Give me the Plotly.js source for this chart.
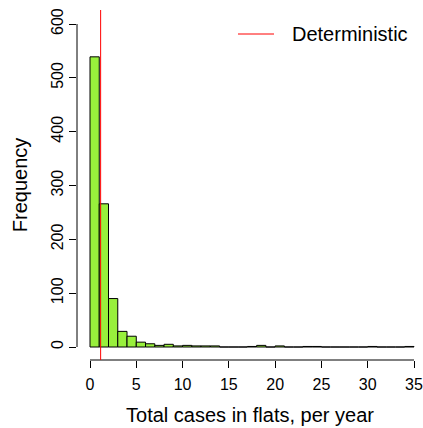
<!DOCTYPE html>
<html>
<head>
<meta charset="utf-8">
<script src="https://cdn.plot.ly/plotly-3.0.1.min.js"></script>
<style>html,body{margin:0;padding:0;background:#fff;}#chart{width:423px;height:428px;}</style>
</head>
<body>
<div id="chart"></div>
<script>
// Histogram bins (left edges, width 1) and counts
var binStarts = [0,1,2,3,4,5,6,7,8,9,10,11,12,13,14,15,16,17,18,19,20,21,22,23,24,25,26,27,28,29,30,31,32,33,34];
var counts    = [539,266,90,29,20,9,6,3,5,2,3,2,2,2,0,0,0,1,3,0,2,0,0,1,1,0,0,0,0,0,1,0,0,0,1];
var binWidth = 1;
var deterministic = 1.15;
var xTicks = [0,5,10,15,20,25,30,35];
var yTicks = [0,100,200,300,400,500,600];
var legendLabel = "Deterministic";
var xTitle = "Total cases in flats, per year";
var yTitle = "Frequency";

var centers = binStarts.map(function(b){ return b + binWidth/2; });

var font = "Liberation Sans, Arial, Helvetica, sans-serif";

var traces = [{
  type: 'bar',
  x: centers,
  y: counts,
  width: binWidth,
  marker: {color: '#98f03c', line: {color: '#000000', width: 1}},
  hoverinfo: 'x+y',
  showlegend: false
}];

var layout = {
  width: 423, height: 428,
  margin: {l: 77, r: 0, t: 10, b: 68},
  paper_bgcolor: '#ffffff',
  plot_bgcolor: '#ffffff',
  showlegend: false,
  bargap: 0,
  font: {family: font, color: '#000000'},
  xaxis: {
    range: [-1.404, 35.972],
    tickvals: xTicks,
    ticktext: xTicks.map(String),
    ticks: 'outside', ticklen: 7, tickwidth: 1, tickcolor: '#000',
    ticklabelstandoff: 3,
    showgrid: false, zeroline: false, showline: false,
    tickfont: {size: 16, family: font},
    title: {text: xTitle, font: {size: 20, family: font}, standoff: 15},
    fixedrange: true
  },
  yaxis: {
    range: [-24.15, 626],
    tickvals: yTicks,
    ticktext: yTicks.map(String),
    tickangle: -90,
    ticks: 'outside', ticklen: 7, tickwidth: 1, tickcolor: '#000',
    showgrid: false, zeroline: false, showline: false,
    tickfont: {size: 16, family: font},
    title: {text: yTitle, font: {size: 20, family: font}, standoff: 15},
    fixedrange: true
  },
  shapes: [
    // x axis line spanning first..last tick
    {type: 'line', xref: 'x', yref: 'paper', x0: xTicks[0], x1: xTicks[xTicks.length-1], y0: 0, y1: 0,
     line: {color: '#000', width: 1}},
    // y axis line spanning first..last tick
    {type: 'line', xref: 'paper', yref: 'y', x0: 0, x1: 0, y0: yTicks[0], y1: yTicks[yTicks.length-1],
     line: {color: '#000', width: 1}},
    // deterministic vertical line
    {type: 'line', xref: 'x', yref: 'paper', x0: deterministic, x1: deterministic, y0: 0, y1: 1,
     line: {color: '#ff0000', width: 1}},
    // legend key
    {type: 'line', xref: 'paper', yref: 'paper', x0: 0.4653, x1: 0.5694, y0: 0.9314, y1: 0.9314,
     line: {color: '#ff0000', width: 1}}
  ],
  annotations: [
    {xref: 'paper', yref: 'paper', x: 0.6156, y: 0.9314, xanchor: 'left', yanchor: 'middle',
     text: legendLabel, showarrow: false, font: {size: 20, family: font, color: '#000'}}
  ]
};

Plotly.newPlot('chart', traces, layout, {displayModeBar: false, staticPlot: true});
</script>
</body>
</html>
